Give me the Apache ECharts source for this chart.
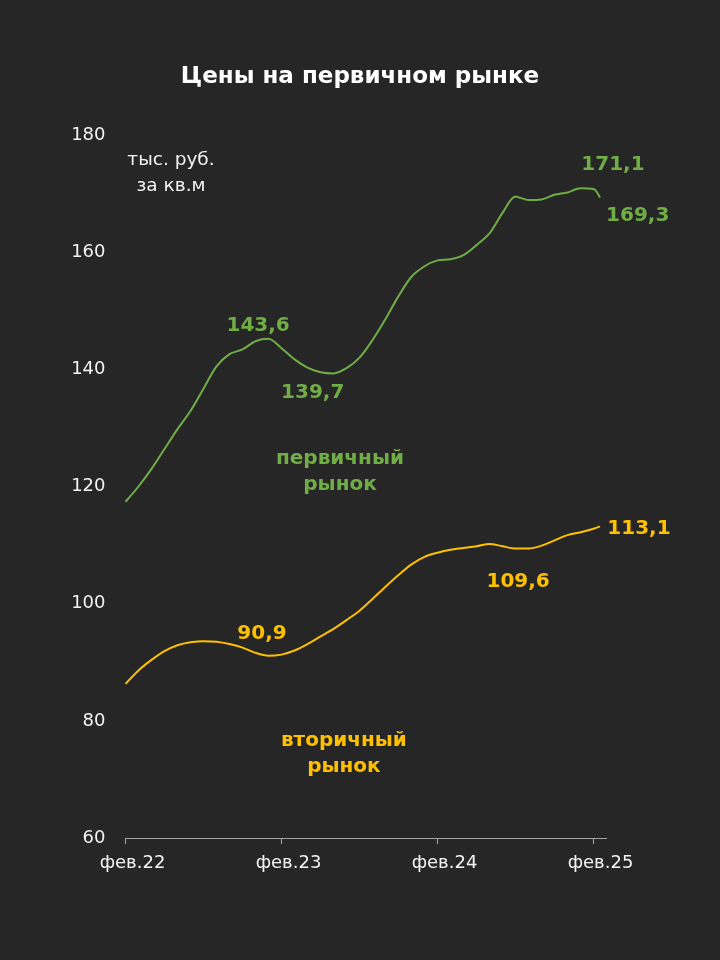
<!DOCTYPE html>
<html>
<head>
<meta charset="utf-8">
<script src="https://cdn.jsdelivr.net/npm/echarts@6/dist/echarts.min.js"></script>
<style>
  html, body { margin: 0; padding: 0; background: #262626; }
  #chart { width: 720px; height: 960px; }
</style>
</head>
<body>
<div id="chart"></div>
<script>
// месяцы от фев.22 (0) до фев.25 (36), последняя точка чуть позже
var months = [0, 1, 2, 3, 4, 5, 6, 7, 8, 9, 10, 11, 12, 13, 14, 15, 16, 17, 18, 19, 20,
  21, 22, 23, 24, 25, 26, 27, 28, 29, 30, 31, 32, 33, 34, 35, 36, 36.5];
var tickMonths = [0, 12, 24, 36];
var tickLabels = ['фев.22', 'фев.23', 'фев.24', 'фев.25'];

var primary = [117.4, 120.0, 123.0, 126.4, 129.8, 132.9, 136.7, 140.5, 142.6, 143.4, 144.8,
  145.2, 143.6, 141.7, 140.3, 139.5, 139.3, 140.2, 142.0, 145.0, 148.6, 152.5, 155.8,
  157.6, 158.6, 158.8, 159.5, 161.2, 163.2, 166.7, 169.5, 168.9, 169.0, 169.8, 170.2,
  170.9, 170.8, 169.3];
var secondary = [86.3, 88.6, 90.4, 91.9, 92.9, 93.4, 93.6, 93.5, 93.1, 92.5, 91.6, 91.1,
  91.3, 92.0, 93.1, 94.4, 95.7, 97.2, 98.8, 100.8, 102.9, 104.9, 106.7, 108.0, 108.7,
  109.2, 109.5, 109.8, 110.2, 109.8, 109.4, 109.4, 109.9, 110.8, 111.7, 112.2, 112.8, 113.2];

// подписи: [месяц, значение, текст]
var greenNotes = [[10.2, 147.5, '143,6'], [14.4, 136.0, '139,7'], [37.5, 174.9, '171,1'],
  [39.4, 166.2, '169,3'], [16.5, 122.5, 'первичный\nрынок']];
var yellowNotes = [[10.5, 94.8, '90,9'], [30.2, 103.7, '109,6'], [39.5, 112.7, '113,1'],
  [16.8, 74.3, 'вторичный\nрынок']];

var green = '#70AD47';
var yellow = '#FFC000';
var font = 'DejaVu Sans';

function pairs(vals) {
  return vals.map(function (v, i) { return [months[i], v]; });
}

var myChart = echarts.init(document.getElementById('chart'));
var option = {
  backgroundColor: '#262626',
  animation: false,
  title: {
    text: 'Цены на первичном рынке',
    left: 'center',
    top: 61,
    textStyle: { color: '#ffffff', fontFamily: font, fontWeight: 'bold', fontSize: 23 }
  },
  grid: { left: 125.5, right: 113.5, top: 135, bottom: 122 },
  xAxis: {
    type: 'value',
    min: 0,
    max: 37,
    splitLine: { show: false },
    axisLine: { show: true, lineStyle: { color: '#a6a6a6', width: 1 } },
    axisTick: { show: true, customValues: tickMonths, length: 6, inside: false,
      lineStyle: { color: '#a6a6a6' } },
    axisLabel: {
      customValues: tickMonths,
      color: '#f2f2f2', fontFamily: font, fontSize: 18, margin: 16,
      padding: [0, 0, 0, 14],
      formatter: function (v) { return tickLabels[tickMonths.indexOf(v)] || ''; }
    }
  },
  yAxis: {
    type: 'value',
    min: 60,
    max: 180,
    interval: 20,
    splitLine: { show: false },
    axisLine: { show: false },
    axisTick: { show: false },
    axisLabel: { color: '#f2f2f2', fontFamily: font, fontSize: 18, margin: 20 }
  },
  series: [
    {
      name: 'первичный рынок',
      type: 'line',
      data: pairs(primary),
      smooth: 0.3,
      showSymbol: false,
      clip: false,
      lineStyle: { color: green, width: 2 }
    },
    {
      name: 'вторичный рынок',
      type: 'line',
      data: pairs(secondary),
      smooth: 0.3,
      showSymbol: false,
      clip: false,
      lineStyle: { color: yellow, width: 2 }
    }
  ]
};
myChart.setOption(option);

// текстовые подписи привязаны к координатам данных
function noteTexts(notes, color) {
  return notes.map(function (n) {
    var p = myChart.convertToPixel({ gridIndex: 0 }, [n[0], n[1]]);
    return {
      type: 'text',
      x: p[0],
      y: p[1],
      style: {
        text: n[2], fill: color, fontFamily: font, fontWeight: 'bold', fontSize: 20,
        align: 'center', verticalAlign: 'middle', lineHeight: 26
      }
    };
  });
}
var unit = myChart.convertToPixel({ gridIndex: 0 }, [3.5, 173.5]);
myChart.setOption({
  graphic: noteTexts(greenNotes, green).concat(noteTexts(yellowNotes, yellow)).concat([{
    type: 'text',
    x: unit[0],
    y: unit[1],
    style: {
      text: 'тыс. руб.\nза кв.м', fill: '#f2f2f2', fontFamily: font, fontSize: 18.5,
      align: 'center', verticalAlign: 'middle', lineHeight: 26
    }
  }])
});
</script>
</body>
</html>
